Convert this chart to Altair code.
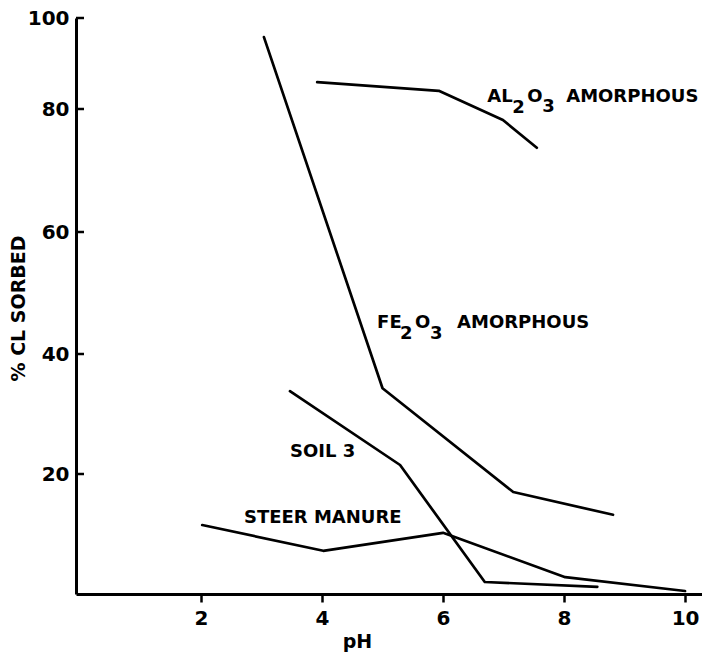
import altair as alt
import pandas as pd

# pH / percent chloride sorbed for each sorbent
al_ph = [3.92, 5.93, 6.99, 7.55]
al_val = [85.9, 84.0, 78.2, 73.7]

fe_ph = [3.04, 5.00, 7.16, 8.81]
fe_val = [95.8, 34.3, 17.0, 13.2]

soil_ph = [3.47, 5.29, 6.69, 8.55]
soil_val = [33.8, 21.5, 2.0, 1.2]

manure_ph = [2.02, 4.02, 6.00, 8.02, 10.0]
manure_val = [11.5, 7.2, 10.2, 2.8, 0.5]

x_ticks = [2, 4, 6, 8, 10]
y_ticks = [20, 40, 60, 80, 100]

FONT = "DejaVu Sans"
W, H = 626, 576

rows = []
for name, xs, ys in [("al", al_ph, al_val), ("fe", fe_ph, fe_val),
                     ("soil", soil_ph, soil_val), ("manure", manure_ph, manure_val)]:
    for i, (a, b) in enumerate(zip(xs, ys)):
        rows.append({"series": name, "ph": a, "pct": b, "i": i})
df = pd.DataFrame(rows)

xscale = alt.Scale(domain=[-0.066, 10.28], nice=False, zero=False)
# hand-ruled axis: the top interval is shorter than the others
yscale = alt.Scale(domain=[0, 20, 40, 60, 80, 100], range=[576, 456, 336, 214, 91, 0],
                   nice=False, zero=False)

xaxis = alt.Axis(values=x_ticks, format="d", title="pH", labelFontSize=20, labelFont=FONT,
                 labelFontWeight="bold", labelPadding=6, tickSize=8, tickWidth=2.5,
                 tickColor="black", domainColor="black", domainWidth=3, grid=False,
                 titleFont=FONT, titleFontSize=19, titleFontWeight="bold",
                 titleX=281, titleY=53, titleBaseline="alphabetic", titleAlign="center",
                 labelColor="black", titleColor="black")
yaxis = alt.Axis(values=y_ticks, format="d", title="% CL SORBED", labelFontSize=20,
                 labelFont=FONT, labelFontWeight="bold", labelPadding=7, ticks=False,
                 domainColor="black", domainWidth=3, grid=False,
                 titleFont=FONT, titleFontSize=19, titleFontWeight="bold",
                 titleAngle=270, titleX=-58, titleY=290, titleAlign="center",
                 titleBaseline="middle", labelColor="black", titleColor="black")

lines = alt.Chart(df).mark_line(color="black", strokeWidth=2.7, strokeCap="round",
                                strokeJoin="round").encode(
    x=alt.X("ph:Q", scale=xscale, axis=xaxis),
    y=alt.Y("pct:Q", scale=yscale, axis=yaxis),
    detail="series:N",
    order="i:Q",
)

# inward-pointing tick marks on the vertical axis
yt = alt.Chart(pd.DataFrame({"pct": y_ticks})).mark_rule(color="black", strokeWidth=2.5).encode(
    y=alt.Y("pct:Q", scale=yscale),
    x=alt.value(0), x2=alt.value(8),
)


def piece(ph, pct, text, dx=0, dy=0, size=18):
    return alt.Chart(pd.DataFrame({"ph": [ph], "pct": [pct], "t": [text]})).mark_text(
        align="left", baseline="middle", dx=dx, dy=dy, font=FONT, fontWeight="bold",
        fontSize=size, color="black").encode(
        x=alt.X("ph:Q", scale=xscale),
        y=alt.Y("pct:Q", scale=yscale),
        text="t:N",
    )


labels = [
    # AL2O3 AMORPHOUS
    piece(6.73, 82.6, "AL"),
    piece(6.73, 82.6, "2", dx=25, dy=11),
    piece(6.73, 82.6, "O", dx=40),
    piece(6.73, 82.6, "3", dx=55, dy=10),
    piece(6.73, 82.6, "AMORPHOUS", dx=79),
    # FE2O3 AMORPHOUS
    piece(4.91, 45.1, "FE"),
    piece(4.91, 45.1, "2", dx=23, dy=11),
    piece(4.91, 45.1, "O", dx=38),
    piece(4.91, 45.1, "3", dx=53, dy=11),
    piece(4.91, 45.1, "AMORPHOUS", dx=80),
    piece(3.47, 23.7, "SOIL 3"),
    piece(2.71, 12.7, "STEER MANURE"),
]

chart = alt.layer(lines, yt, *labels).properties(
    width=W, height=H,
    padding={"left": 76, "top": 18, "right": 0, "bottom": 65},
    autosize=alt.AutoSizeParams(type="none"),
).configure(background="white").configure_view(stroke=None)

chart.save("out.html", embed_options={"renderer": "svg", "actions": False})
